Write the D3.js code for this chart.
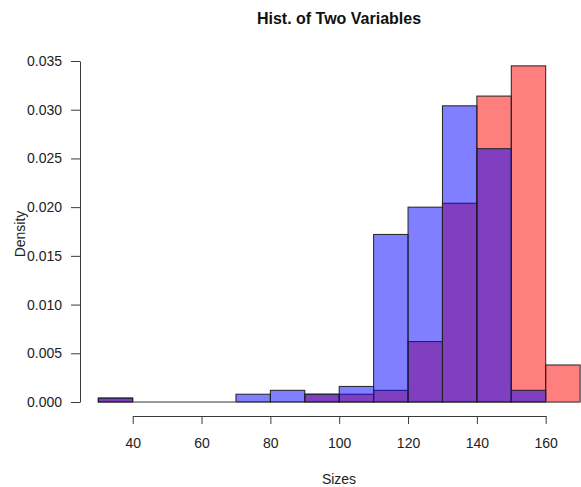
<!DOCTYPE html>
<html>
<head>
<meta charset="utf-8">
<script src="https://cdn.jsdelivr.net/npm/d3@7"></script>
<style>
	body { margin: 0; background: #fff; }
	svg { display: block; font-family: "Liberation Sans", Arial, sans-serif; }
	.axis path, .axis line { stroke: #3a3a3a; }
	.axis text { font-size: 14px; fill: #222; font-family: "Liberation Sans", Arial, sans-serif; }
</style>
</head>
<body>
<div id="chart"></div>
<script>
// histogram bins (breaks every 10 from 30 to 170)
var breaks = [30, 40, 50, 60, 70, 80, 90, 100, 110, 120, 130, 140, 150, 160, 170];

// density per bin
var blueDensity = [0.0004, 0, 0, 0, 0.0008, 0.0012, 0.0008, 0.0016, 0.0172, 0.0200, 0.0304, 0.0260, 0.0012, 0];
var redDensity  = [0.0004, 0, 0, 0, 0, 0, 0.0008, 0.0008, 0.0012, 0.0062, 0.0204, 0.0314, 0.0345, 0.0038];

var xTicks = [40, 60, 80, 100, 120, 140, 160];
var yTicks = [0, 0.005, 0.010, 0.015, 0.020, 0.025, 0.030, 0.035];

var width = 581, height = 487;

var svg = d3.select("#chart").append("svg")
	.attr("width", width)
	.attr("height", height);

// scales
var x = d3.scaleLinear().domain([40, 160]).range([132.7, 545.7]);
var y = d3.scaleLinear().domain([0, 0.035]).range([402, 61]);

var bins = function(dens) {
	return dens.map(function(d, i) {
		return {x0: breaks[i], x1: breaks[i + 1], value: d};
	});
};

// draw the red one first, the blue one over it
var drawHist = function(dens, fill) {
	var g = svg.append("g");

	g.selectAll("rect")
		.data(bins(dens).filter(function(d) { return d.value > 0; }))
		.enter()
		.append("rect")
		.attr("x", function(d) { return x(d.x0); })
		.attr("y", function(d) { return y(d.value); })
		.attr("width", function(d) { return x(d.x1) - x(d.x0); })
		.attr("height", function(d) { return y(0) - y(d.value); })
		.attr("fill", fill)
		.attr("stroke", "#222")
		.attr("stroke-width", 1);

	// empty bins are flat boxes, i.e. a line on the base
	g.selectAll("line")
		.data(bins(dens).filter(function(d) { return d.value === 0; }))
		.enter()
		.append("line")
		.attr("x1", function(d) { return x(d.x0); })
		.attr("x2", function(d) { return x(d.x1); })
		.attr("y1", y(0))
		.attr("y2", y(0))
		.attr("stroke", "#777")
		.attr("stroke-width", 1);
};

drawHist(redDensity, "rgba(255,0,0,0.5)");
drawHist(blueDensity, "rgba(0,0,255,0.5)");

// y axis
svg.append("g")
	.attr("class", "axis")
	.attr("transform", "translate(80,0)")
	.call(d3.axisLeft(y)
		.tickValues(yTicks)
		.tickFormat(d3.format(".3f"))
		.tickSize(9)
		.tickSizeOuter(0)
		.tickPadding(9));

// x axis
svg.append("g")
	.attr("class", "axis")
	.attr("transform", "translate(0,416)")
	.call(d3.axisBottom(x)
		.tickValues(xTicks)
		.tickFormat(d3.format("d"))
		.tickSize(8)
		.tickSizeOuter(0)
		.tickPadding(14));

// title and axis titles
svg.append("text")
	.attr("x", 339)
	.attr("y", 24)
	.attr("text-anchor", "middle")
	.style("font-size", "16px")
	.style("font-weight", "bold")
	.attr("fill", "#111")
	.text("Hist. of Two Variables");

svg.append("text")
	.attr("x", 339)
	.attr("y", 484)
	.attr("text-anchor", "middle")
	.style("font-size", "14px")
	.attr("fill", "#222")
	.text("Sizes");

svg.append("text")
	.attr("transform", "translate(25,234)rotate(-90)")
	.attr("text-anchor", "middle")
	.style("font-size", "14px")
	.attr("fill", "#222")
	.text("Density");
</script>
</body>
</html>
